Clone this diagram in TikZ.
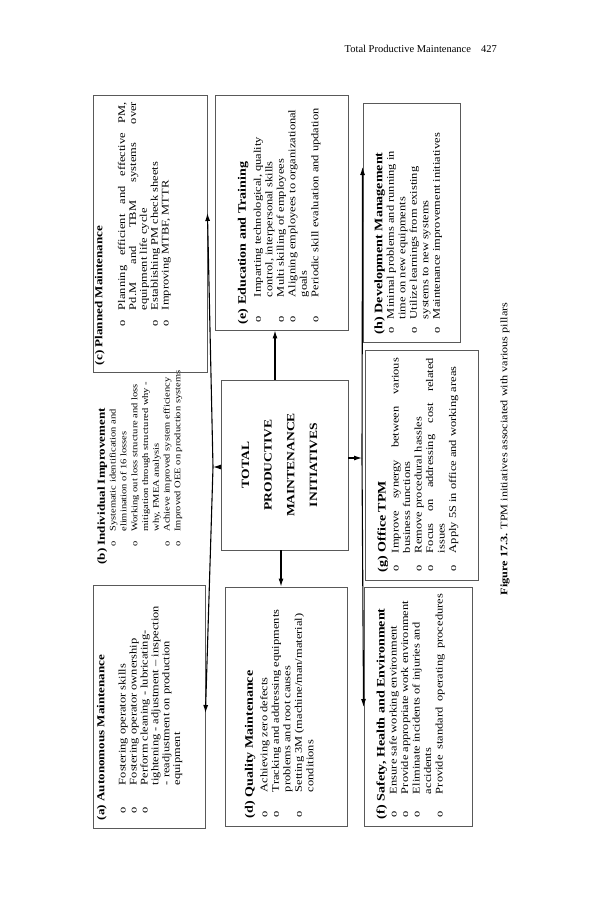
\documentclass[tikz,border=0pt]{standalone}
\usepackage{fontspec}
\setmainfont{Liberation Serif}
\newfontfamily\figfont{Liberation Serif}[FakeStretch=1.22]
\usetikzlibrary{arrows.meta}
\newlength{\bulx}
\newlength{\txtx}
\newcommand{\bl}{\par\noindent\hspace*{\bulx}\makebox[\dimexpr\txtx-\bulx\relax][l]{o}}
\newcommand{\cl}{\par\noindent\hspace*{\txtx}}
\newcommand{\ttl}[2]{\noindent{\fontsize{#1}{#1}\bfseries #2}\par}
\newcommand{\pbox}[5]{\parbox[c][#2][t]{#1}{\setlength{\bulx}{#3}\setlength{\txtx}{#4}\raggedright #5}}

\begin{document}
\begin{tikzpicture}[x=1pt, y=-1pt,
    pillar/.style={draw=black!65, line width=0.9pt, rotate=90, inner ysep=4pt, font=\figfont\fontsize{10.2}{10.9}\selectfont},
    lowrow/.style={pillar, font=\figfont\fontsize{10.2}{11.5}\selectfont},
    core/.style={draw=black!65, line width=0.9pt, rotate=90, minimum width=170pt, minimum height=127pt, inner sep=0pt, font=\figfont\fontsize{11.1}{22.7}\selectfont\bfseries},
    arr/.style={-{Latex[length=8pt,width=5pt]}, line width=1.1pt}
]
\useasboundingbox (0,0) rectangle (593,900);

% page header and caption
\node[anchor=base east, inner sep=0pt, font=\fontsize{10.5}{12}\selectfont] (hdr) at (497,52) {Total Productive Maintenance\hspace{10pt}427};
\node[rotate=90, font=\figfont\fontsize{10}{11}\selectfont] (cap) at (505,449) {\textbf{Figure 17.3.} TPM initiatives associated with various pillars};

% centre
\node[core] (ctr) at (284.5,465) {\parbox{127pt}{\centering TOTAL\\PRODUCTIVE\\MAINTENANCE\\INITIATIVES\par\vspace{10pt}}};

% top row
\node[pillar, inner xsep=8pt] (a) at (149,706.5) {\pbox{227pt}{104pt}{7pt}{35pt}{%
  \ttl{10.7}{(a) Autonomous Maintenance}\vspace{10.4pt}
  \bl Fostering operator skills
  \bl Fostering operator ownership
  \bl Perform cleaning - lubricating-
  \cl tightening - adjustment – inspection
  \cl - readjustment on production
  \cl equipment}};
\node[pillar, draw=none, anchor=north west, inner xsep=5pt, inner ysep=3pt, font=\figfont\fontsize{8.6}{10.8}\selectfont] (b) at (94,570) {\pbox{220pt}{88pt}{18pt}{33pt}{%
  \ttl{10.7}{(b) Individual Improvement}
  \bl Systematic identification and
  \cl elimination of 16 losses
  \bl Working out loss structure and loss
  \cl mitigation through structured why -
  \cl why, FMEA analysis
  \bl Achieve improved system efficiency
  \bl Improved OEE on production systems}};
\node[pillar, inner xsep=7pt, inner ysep=2pt] (c) at (150,233.5) {\pbox{263pt}{110pt}{39pt}{55pt}{%
  \ttl{10.7}{(c) Planned Maintenance}\vspace{11.8pt}
  \bl Planning\hfill efficient\hfill and\hfill effective\hfill PM,
  \cl Pd.M\hfill and\hfill TBM\hfill systems\hfill over
  \cl equipment life cycle
  \bl Establishing PM check sheets
  \bl Improving MTBF, MTTR}};

% middle row
\node[lowrow, inner xsep=8pt, inner ysep=20pt] (d) at (286,706.5) {\pbox{223pt}{82pt}{1pt}{26pt}{%
  \ttl{11.5}{(d) Quality Maintenance}\vspace{3pt}
  \bl Achieving zero defects
  \bl Tracking and addressing equipments
  \cl problems and root causes
  \bl Setting 3M (machine/man/material)
  \cl conditions}};
\node[lowrow, inner xsep=6pt, inner ysep=23pt] (e) at (281.5,212.5) {\pbox{223pt}{87pt}{2pt}{27pt}{%
  \ttl{11.5}{(e) Education and Training}\vspace{3.5pt}
  \bl Imparting technological, quality
  \cl control, interpersonal skills
  \bl Multi skilling of employees
  \bl Aligning employees to organizational
  \cl goals
  \bl Periodic skill evaluation and updation}};

% bottom row
\node[lowrow, inner xsep=7pt, inner ysep=12.5pt] (f) at (418,706.5) {\pbox{225pt}{83pt}{2pt}{25pt}{%
  \ttl{11.5}{(f) Safety, Health and Environment}\vspace{0.5pt}
  \bl Ensure safe working environment
  \bl Provide appropriate work environment
  \bl Eliminate incidents of injuries and
  \cl accidents
  \bl Provide\hfill standard\hfill operating\hfill procedures}};
\node[lowrow, inner xsep=8pt, inner ysep=12.5pt] (g) at (421.5,465) {\pbox{214pt}{88pt}{1pt}{19pt}{%
  \ttl{11.5}{(g) Office TPM}\vspace{1.5pt}
  \bl Improve\hfill synergy\hfill between\hfill various
  \cl business functions
  \bl Remove procedural hassles
  \bl Focus\hfill on\hfill addressing\hfill cost\hfill related
  \cl issues
  \bl Apply 5S in office and working areas}};
\node[lowrow, inner xsep=8pt, inner ysep=11.5pt] (h) at (411.5,222.5) {\pbox{223pt}{74pt}{1pt}{15pt}{%
  \ttl{11.5}{(h) Development Management}
  \bl Minimal problems and running in
  \cl time on new equipments
  \bl Utilize learnings from existing
  \cl systems to new systems
  \bl Maintenance improvement initiatives}};

% connectors
\coordinate (j1) at (213,467);
\coordinate (j2) at (362,458);
\coordinate (ya) at (0,713);
\coordinate (yc) at (0,213);
\coordinate (yf) at (0,707);
\coordinate (yh) at (0,167);
\coordinate (xe) at (275,0);
\coordinate (xd) at (281,0);
\draw[arr] (ctr.north |- j1) -- (j1);
\draw[arr] (ctr.south |- j2) -- (j2);
\draw[arr] (j1) -- (a.south |- ya);
\draw[arr] (j1) -- (c.south |- yc);
\draw[arr] (j2) -- (f.north |- yf);
\draw[arr] (j2) -- (h.north |- yh);
\draw[arr] (xe |- ctr.east) -- (xe |- e.west);
\draw[arr] (xd |- ctr.west) -- (xd |- d.east);
\end{tikzpicture}
\end{document}
